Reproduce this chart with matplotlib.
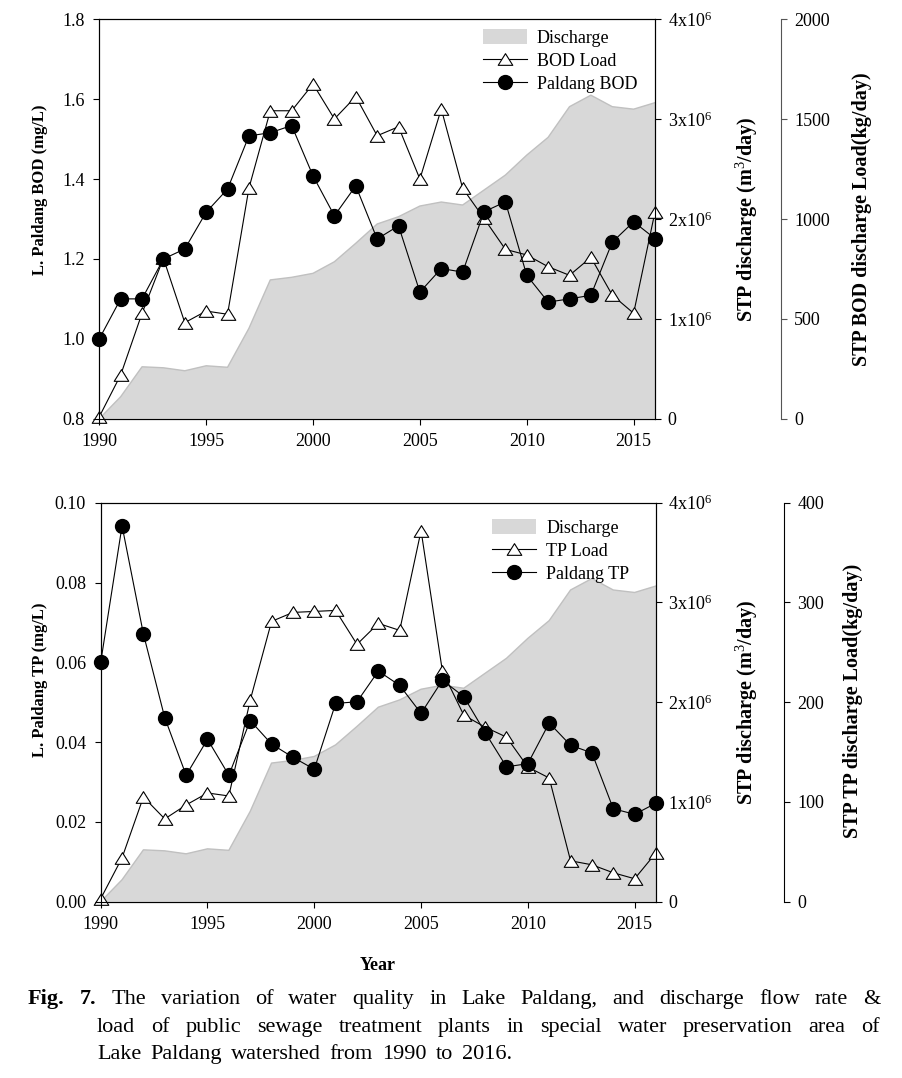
import matplotlib
matplotlib.use('Agg')
import matplotlib.pyplot as plt
from matplotlib.lines import Line2D
from matplotlib.patches import Patch
from matplotlib.path import Path
from matplotlib.transforms import IdentityTransform

plt.rcParams['font.family'] = ['Liberation Serif', 'DejaVu Serif']
plt.rcParams['mathtext.fontset'] = 'custom'
plt.rcParams['mathtext.rm'] = 'Liberation Serif'
plt.rcParams['mathtext.it'] = 'Liberation Serif:italic'
plt.rcParams['mathtext.bf'] = 'Liberation Serif:bold'

# ---------------- data ----------------
years = list(range(1990, 2017))
discharge = [0, 0.22e6, 0.52e6, 0.51e6, 0.48e6, 0.53e6, 0.515e6, 0.905e6, 1.39e6,
             1.416e6, 1.456e6, 1.572e6, 1.757e6, 1.95e6, 2.023e6, 2.13e6, 2.17e6,
             2.14e6, 2.29e6, 2.44e6, 2.64e6, 2.818e6, 3.125e6, 3.24e6, 3.125e6,
             3.10e6, 3.165e6]
bod_load = [10, 219, 528, 803, 481, 539, 523, 1154, 1542, 1542, 1676, 1501, 1613,
            1417, 1462, 1200, 1551, 1154, 1003, 848, 820, 761, 718, 808, 619, 528, 1036]
paldang_bod = [1.00, 1.10, 1.10, 1.20, 1.225, 1.317, 1.375, 1.508, 1.516, 1.534,
               1.408, 1.308, 1.383, 1.25, 1.283, 1.117, 1.176, 1.167, 1.318, 1.343,
               1.159, 1.092, 1.10, 1.109, 1.242, 1.293, 1.251]
tp_load = [3, 44, 105, 83, 97, 109, 106, 202, 281, 290, 291, 292, 258, 279, 272,
           372, 231, 187, 175, 165, 135, 124, 41, 37, 29, 23, 49]
paldang_tp = [0.060, 0.0942, 0.0671, 0.0461, 0.0317, 0.0407, 0.0317, 0.0454, 0.0395,
              0.0362, 0.0332, 0.0497, 0.0501, 0.0578, 0.0542, 0.0472, 0.0555, 0.0514,
              0.0424, 0.0338, 0.0346, 0.0448, 0.0392, 0.0373, 0.0233, 0.0219, 0.0247]

x_ticks = [1990, 1995, 2000, 2005, 2010, 2015]
bod_ticks = [0.8, 1.0, 1.2, 1.4, 1.6, 1.8]
bod_ticklabels = ['0.8', '1.0', '1.2', '1.4', '1.6', '1.8']
tp_ticks = [0.00, 0.02, 0.04, 0.06, 0.08, 0.10]
tp_ticklabels = ['0.00', '0.02', '0.04', '0.06', '0.08', '0.10']
dis_ticks = [0, 1e6, 2e6, 3e6, 4e6]
dis_ticklabels = ['0', '1x10$^6$', '2x10$^6$', '3x10$^6$', '4x10$^6$']
bod_load_ticks = [0, 500, 1000, 1500, 2000]
tp_load_ticks = [0, 100, 200, 300, 400]

W, H = 902, 1078
fig = plt.figure(figsize=(W / 100, H / 100), dpi=100)

AREA_FC = '#d8d8d8'
AREA_EC = '#c0c0c0'
tri = Path([(-1, -0.8), (1, -0.8), (0, 0.8), (-1, -0.8)],
           [Path.MOVETO, Path.LINETO, Path.LINETO, Path.CLOSEPOLY])
TRI_MS = 10.5
CIR_MS = 10


def px_rect(x0, y0, x1, y1):
    return [x0 / W, 1 - y1 / H, (x1 - x0) / W, (y1 - y0) / H]


def panel(rect, x3pos, vals, loads, ylim, yticks, yticklabels, load_ylim,
          load_ticks, names, spine3color, leg_anchor):
    ax1 = fig.add_axes(rect)
    ax2 = ax1.twinx()
    ax3 = ax1.twinx()
    ax2.set_zorder(1)
    ax3.set_zorder(2)
    ax1.set_zorder(3)
    ax1.patch.set_visible(False)
    ax3.patch.set_visible(False)

    ax2.fill_between(years, discharge, 0, facecolor=AREA_FC, edgecolor='none')
    ax2.plot(years, discharge, color=AREA_EC, lw=1.0)
    ax2.set_ylim(0, 4e6)
    ax2.set_yticks(dis_ticks)
    ax2.set_yticklabels(dis_ticklabels)
    ax2.tick_params(axis='y', direction='out', length=4, width=0.8, labelsize=13, pad=5)

    ax3.plot(years, loads, color='black', lw=0.8, marker=tri, markersize=TRI_MS,
             markerfacecolor='white', markeredgecolor='black', markeredgewidth=0.8,
             clip_on=False)
    ax3.set_ylim(*load_ylim)
    ax3.set_yticks(load_ticks)
    ax3.spines['right'].set_position(('axes', x3pos))
    ax3.spines['right'].set_color(spine3color)
    for s in ['left', 'top', 'bottom']:
        ax3.spines[s].set_visible(False)
    ax3.tick_params(axis='y', direction='out', length=4.5, width=0.8, labelsize=13,
                    pad=5, color=spine3color)

    ax1.plot(years, vals, color='black', lw=0.8, marker='o', markersize=CIR_MS,
             markerfacecolor='black', markeredgecolor='black', clip_on=False)
    ax1.set_xlim(1990, 2016)
    ax1.set_ylim(*ylim)
    ax1.set_yticks(yticks)
    ax1.set_yticklabels(yticklabels)
    ax1.set_xticks(x_ticks)
    ax1.tick_params(axis='both', direction='out', length=4.5, width=0.8, labelsize=13)
    ax1.tick_params(axis='y', pad=6)
    ax1.tick_params(axis='x', pad=6)
    for s in ax1.spines.values():
        s.set_linewidth(0.8)

    handles = [Patch(facecolor=AREA_FC, edgecolor='none'),
               Line2D([], [], color='black', lw=0.8, marker=tri, markersize=TRI_MS,
                      markerfacecolor='white', markeredgecolor='black', markeredgewidth=0.8),
               Line2D([], [], color='black', lw=0.8, marker='o', markersize=CIR_MS,
                      markerfacecolor='black')]
    ax1.legend(handles, names, loc='upper left', bbox_to_anchor=leg_anchor,
               frameon=False, fontsize=13, handlelength=2.45, handletextpad=0.55,
               labelspacing=0.3, borderpad=0, borderaxespad=0, handleheight=0.9)
    return ax1


panel(px_rect(99.3, 19.3, 655, 418.7), 1.2267, paldang_bod, bod_load, (0.8, 1.8),
      bod_ticks, bod_ticklabels, (0, 2000), bod_load_ticks,
      ['Discharge', 'BOD Load', 'Paldang BOD'], '#555555', (0.69, 0.976))
panel(px_rect(100.7, 502.7, 656, 901.7), 1.2305, paldang_tp, tp_load, (0.0, 0.1),
      tp_ticks, tp_ticklabels, (0, 400), tp_load_ticks,
      ['Discharge', 'TP Load', 'Paldang TP'], 'black', (0.7047, 0.959))


def ftext(x, y, s, **kw):
    return fig.text(x / W, 1 - y / H, s, **kw)


lab = dict(fontweight='bold', rotation=90, ha='center', va='center')
ftext(40, 190, 'L. Paldang BOD (mg/L)', fontsize=12, **lab)
ftext(747, 219, 'STP discharge (m$^3$/day)', fontsize=14.5, **lab)
ftext(862, 219, 'STP BOD discharge Load(kg/day)', fontsize=14.5, **lab)
ftext(40, 680, 'L. Paldang TP (mg/L)', fontsize=12, **lab)
ftext(747, 702, 'STP discharge (m$^3$/day)', fontsize=14.5, **lab)
ftext(853, 701, 'STP TP discharge Load(kg/day)', fontsize=14.5, **lab)
ftext(378, 965, 'Year', fontsize=13, fontweight='bold', ha='center', va='center')

# caption (justified)
renderer = fig.canvas.get_renderer()
CAP = 16


def justify(words, x0, x1, ybase, justify_line=True):
    items = []
    for w, bold in words:
        t = fig.text(0, 0, w, fontsize=CAP, fontweight='bold' if bold else 'normal',
                     transform=IdentityTransform(), va='baseline', ha='left')
        items.append(t)
    widths = [t.get_window_extent(renderer).width for t in items]
    sp = fig.text(0, 0, 'a a', fontsize=CAP, transform=IdentityTransform())
    sp2 = fig.text(0, 0, 'aa', fontsize=CAP, transform=IdentityTransform())
    spw = sp.get_window_extent(renderer).width - sp2.get_window_extent(renderer).width
    sp.remove()
    sp2.remove()
    if justify_line and len(items) > 1:
        gap = (x1 - x0 - sum(widths)) / (len(items) - 1)
    else:
        gap = spw * 1.6
    x = x0
    for t, w in zip(items, widths):
        t.set_position((x, H - ybase))
        x += w + gap


line1 = [('Fig.', True), ('7.', True)] + [(w, False) for w in
         'The variation of water quality in Lake Paldang, and discharge flow rate &'.split()]
line2 = [(w, False) for w in
         'load of public sewage treatment plants in special water preservation area of'.split()]
line3 = [(w, False) for w in 'Lake Paldang watershed from 1990 to 2016.'.split()]
justify(line1, 28, 880, 1004)
justify(line2, 97, 880, 1032)
justify(line3, 97, 880, 1059, justify_line=False)

fig.savefig('out.png', dpi=100)
